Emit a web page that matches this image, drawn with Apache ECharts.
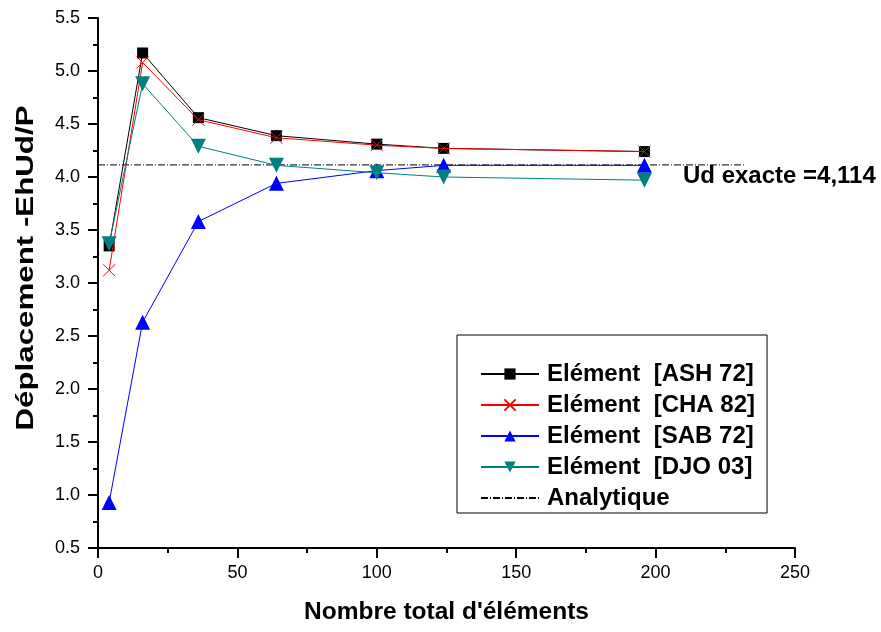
<!DOCTYPE html>
<html>
<head>
<meta charset="utf-8">
<script src="https://cdn.jsdelivr.net/npm/echarts@6/dist/echarts.min.js"></script>
<style>
  html, body { margin: 0; padding: 0; background: #fff; }
  #container { width: 881px; height: 632px; }
</style>
</head>
<body>
<div id="container"></div>
<script>
// valeurs
var nbElements = [4, 16, 36, 64, 100, 124, 196];
var ash72 = [3.35, 5.17, 4.56, 4.39, 4.31, 4.27, 4.24];
var cha82 = [3.12, 5.08, 4.54, 4.37, 4.30, 4.27, 4.24];
var sab72 = [0.93, 2.63, 3.58, 3.94, 4.06, 4.11, 4.11];
var djo03 = [3.37, 4.88, 4.29, 4.11, 4.04, 4.00, 3.97];
var analytX = [0, 232];
var udExacte = 4.114;

var pairs = function (xs, ys) {
    var res = [];
    for (var i = 0; i < xs.length; i++) {
        res.push([xs[i], ys[i]]);
    }
    return res;
};

var dom = document.getElementById("container");
var myChart = echarts.init(dom);
var font = 'Liberation Sans, Arial, sans-serif';
var crossPath = 'path://M0,0L10,10M10,0L0,10';

var option = {
    backgroundColor: '#ffffff',
    animation: false,
    textStyle: { fontFamily: font },
    grid: {
        left: 98, right: 86, top: 18, bottom: 84,
        outerBoundsMode: 'none'
    },
    legend: {
        orient: 'vertical',
        left: 457,
        top: 335,
        padding: [27, 12, 3, 23],
        itemGap: 7,
        itemWidth: 58,
        itemHeight: 14,
        borderColor: '#000',
        borderWidth: 1,
        textStyle: { fontFamily: font, fontSize: 24, fontWeight: 'bold', color: '#000', padding: [0, 0, 0, 3] },
        data: [
            'Elément  [ASH 72]',
            'Elément  [CHA 82]',
            'Elément  [SAB 72]',
            'Elément  [DJO 03]',
            { name: 'Analytique', itemStyle: { opacity: 0 } }
        ]
    },
    xAxis: {
        type: 'value',
        min: 0, max: 250, interval: 50,
        name: "Nombre total d'éléments",
        nameLocation: 'middle',
        nameGap: 52,
        nameTextStyle: { fontFamily: font, fontSize: 24.5, fontWeight: 'bold', color: '#000' },
        axisLine: { show: true, lineStyle: { color: '#000', width: 2 } },
        axisTick: { show: true, length: 10, lineStyle: { color: '#000', width: 2 } },
        minorTick: { show: true, splitNumber: 2, length: 5, lineStyle: { color: '#000', width: 2 } },
        axisLabel: { fontFamily: font, fontSize: 18, color: '#000', margin: 16 },
        splitLine: { show: false }
    },
    yAxis: {
        type: 'value',
        min: 0.5, max: 5.5, interval: 0.5,
        axisLine: { show: true, lineStyle: { color: '#000', width: 2 } },
        axisTick: { show: true, length: 10, lineStyle: { color: '#000', width: 2 } },
        minorTick: { show: true, splitNumber: 2, length: 5, lineStyle: { color: '#000', width: 2 } },
        axisLabel: {
            fontFamily: font, fontSize: 18, color: '#000', margin: 18,
            formatter: function (v) { return v.toFixed(1); }
        },
        splitLine: { show: false }
    },
    graphic: [
        {
            // titre de l'axe vertical, étiré comme sur l'original
            type: 'text',
            x: 27,
            y: 268,
            rotation: Math.PI / 2,
            scaleX: 1.36,
            style: {
                text: 'Déplacement -EhUd/P',
                font: 'bold 23px ' + font,
                fill: '#000',
                align: 'center',
                verticalAlign: 'middle'
            }
        },
        {
            type: 'text',
            left: 683,
            top: 164,
            style: {
                text: 'Ud exacte =4,114',
                font: 'bold 24px ' + font,
                fill: '#000'
            }
        }
    ],
    series: [
        {
            name: 'Elément  [ASH 72]',
            type: 'line',
            data: pairs(nbElements, ash72),
            symbol: 'rect',
            symbolSize: 11,
            lineStyle: { color: '#000', width: 1 },
            itemStyle: { color: '#000' },
            z: 3
        },
        {
            name: 'Elément  [CHA 82]',
            type: 'line',
            data: pairs(nbElements, cha82),
            symbol: crossPath,
            symbolSize: 12,
            lineStyle: { color: '#ff0000', width: 1 },
            itemStyle: { color: 'none', borderColor: '#ff0000', borderWidth: 1 },
            z: 4
        },
        {
            name: 'Elément  [SAB 72]',
            type: 'line',
            data: pairs(nbElements, sab72),
            symbol: 'triangle',
            symbolSize: 15,
            lineStyle: { color: '#0000ff', width: 1 },
            itemStyle: { color: '#0000ff' },
            z: 5
        },
        {
            name: 'Elément  [DJO 03]',
            type: 'line',
            data: pairs(nbElements, djo03),
            symbol: 'triangle',
            symbolRotate: 180,
            symbolSize: 15,
            lineStyle: { color: '#008080', width: 1 },
            itemStyle: { color: '#008080' },
            z: 6
        },
        {
            name: 'Analytique',
            type: 'line',
            data: pairs(analytX, [udExacte, udExacte]),
            symbol: 'none',
            lineStyle: { color: '#000', width: 1, type: [7, 2, 1, 2] },
            itemStyle: { color: '#000' },
            z: 2
        }
    ]
};
myChart.setOption(option, true);
</script>
</body>
</html>
